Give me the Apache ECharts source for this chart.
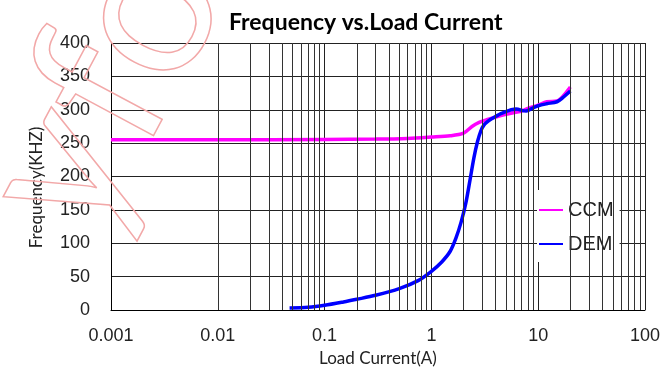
<!DOCTYPE html>
<html>
<head>
<meta charset="utf-8">
<script src="https://cdn.jsdelivr.net/npm/echarts@6/dist/echarts.min.js"></script>
<style>
  html, body { margin: 0; padding: 0; background: #fff; }
  #chart { width: 669px; height: 367px; }
</style>
</head>
<body>
<div id="chart"></div>
<script>
// CCM curve (load current A, frequency KHZ)
var ccmX = [0.001, 0.01, 0.1, 0.3, 0.6, 1, 1.5, 2, 2.4, 2.8, 3.3, 4, 5, 6, 7, 8, 10, 12, 15, 17, 20];
var ccmY = [255, 255, 255.5, 256, 257, 259, 261, 265, 275, 281, 285, 289, 293, 296, 298, 302, 307, 312, 313, 320, 334];

// DEM curve
var demX = [0.047, 0.07, 0.1, 0.15, 0.2, 0.3, 0.5, 0.75, 1, 1.25, 1.5, 1.7, 1.9, 2.1, 2.3, 2.5, 2.7, 2.9, 3.1, 3.4, 3.8, 4.6, 6.2, 7.7, 9, 10, 12, 15, 17, 20];
var demY = [3, 4, 7, 12, 16, 22, 32, 44, 58, 72, 88, 108, 132, 160, 195, 228, 252, 268, 277, 283, 288, 295, 301, 298, 303, 306, 309, 312, 318, 328];

var yTicks = [0, 50, 100, 150, 200, 250, 300, 350, 400];
var decades = [0.001, 0.01, 0.1, 1, 10];
var minorSteps = [2, 3, 4, 5, 6, 7, 8, 9];

function pairs(xs, ys) {
  return xs.map(function (x, i) { return [x, ys[i]]; });
}

// minor vertical gridlines at 2..9 of each decade
var minorLines = [];
decades.forEach(function (d) {
  minorSteps.forEach(function (m) {
    minorLines.push({ xAxis: +(d * m).toPrecision(3) });
  });
});

var chart = echarts.init(document.getElementById('chart'));
var option = {
  animation: false,
  title: {
    text: 'Frequency vs.Load Current',
    left: 224,
    top: 6,
    textStyle: { fontFamily: 'Lato', fontWeight: 'bold', fontSize: 23, color: '#000' }
  },
  legend: {
    orient: 'vertical',
    left: 537,
    top: 190,
    itemGap: 14,
    itemWidth: 24,
    itemHeight: 2,
    icon: 'rect',
    backgroundColor: '#fff',
    padding: [10, 6, 8, 2],
    textStyle: { fontFamily: 'Liberation Sans', fontSize: 20, color: '#222' },
    data: ['CCM', 'DEM']
  },
  grid: { left: 111, right: 24, top: 43, bottom: 57, outerBoundsMode: 'none' },
  xAxis: {
    type: 'log',
    min: 0.001,
    max: 100,
    logBase: 10,
    name: 'Load Current(A)',
    nameLocation: 'middle',
    nameGap: 36,
    nameTextStyle: { fontFamily: 'Lato', fontSize: 17, color: '#222' },
    axisLine: { lineStyle: { color: '#000', width: 1 } },
    axisTick: { show: false },
    axisLabel: {
      margin: 17,
      fontFamily: 'Liberation Sans',
      fontSize: 18,
      color: '#222',
      formatter: function (v) { return String(+v.toPrecision(3)); }
    },
    splitLine: { show: true, lineStyle: { color: '#222', width: 1 } }
  },
  yAxis: {
    type: 'value',
    min: 0,
    max: 400,
    interval: 50,
    name: 'Frequency(KHZ)',
    nameLocation: 'middle',
    nameGap: 66,
    nameTextStyle: { fontFamily: 'Lato', fontSize: 17, color: '#222', padding: [0, 22, 0, 0] },
    axisLine: { show: true, lineStyle: { color: '#000', width: 1 } },
    axisTick: { show: false },
    axisLabel: {
      margin: 21,
      fontFamily: 'Liberation Sans',
      fontSize: 18,
      color: '#222',
      customValues: yTicks
    },
    splitLine: { show: true, lineStyle: { color: '#222', width: 1 } }
  },
  series: [
    {
      name: 'grid',
      type: 'line',
      data: [],
      silent: true,
      markLine: {
        symbol: 'none',
        silent: true,
        label: { show: false },
        lineStyle: { color: '#333', width: 1, type: 'solid' },
        data: minorLines
      }
    },
    {
      name: 'CCM',
      type: 'line',
      data: pairs(ccmX, ccmY),
      showSymbol: false,
      smooth: 0.3,
      color: '#ff00ff',
      lineStyle: { color: '#ff00ff', width: 3.5 }
    },
    {
      name: 'DEM',
      type: 'line',
      data: pairs(demX, demY),
      showSymbol: false,
      smooth: 0.3,
      color: '#0000ff',
      lineStyle: { color: '#0000ff', width: 3.5 }
    }
  ],
  graphic: [
    {
      // faint outlined watermark, top-left
      type: 'text',
      silent: true,
      z: 100,
      x: -55,
      y: 168,
      rotation: 1.08,
      style: {
        text: 'yfo',
        fontFamily: 'Lato',
        fontSize: 205,
        fill: 'rgba(0,0,0,0)',
        stroke: '#f2a8a8',
        lineWidth: 1.5
      }
    }
  ]
};
chart.setOption(option);
</script>
</body>
</html>
